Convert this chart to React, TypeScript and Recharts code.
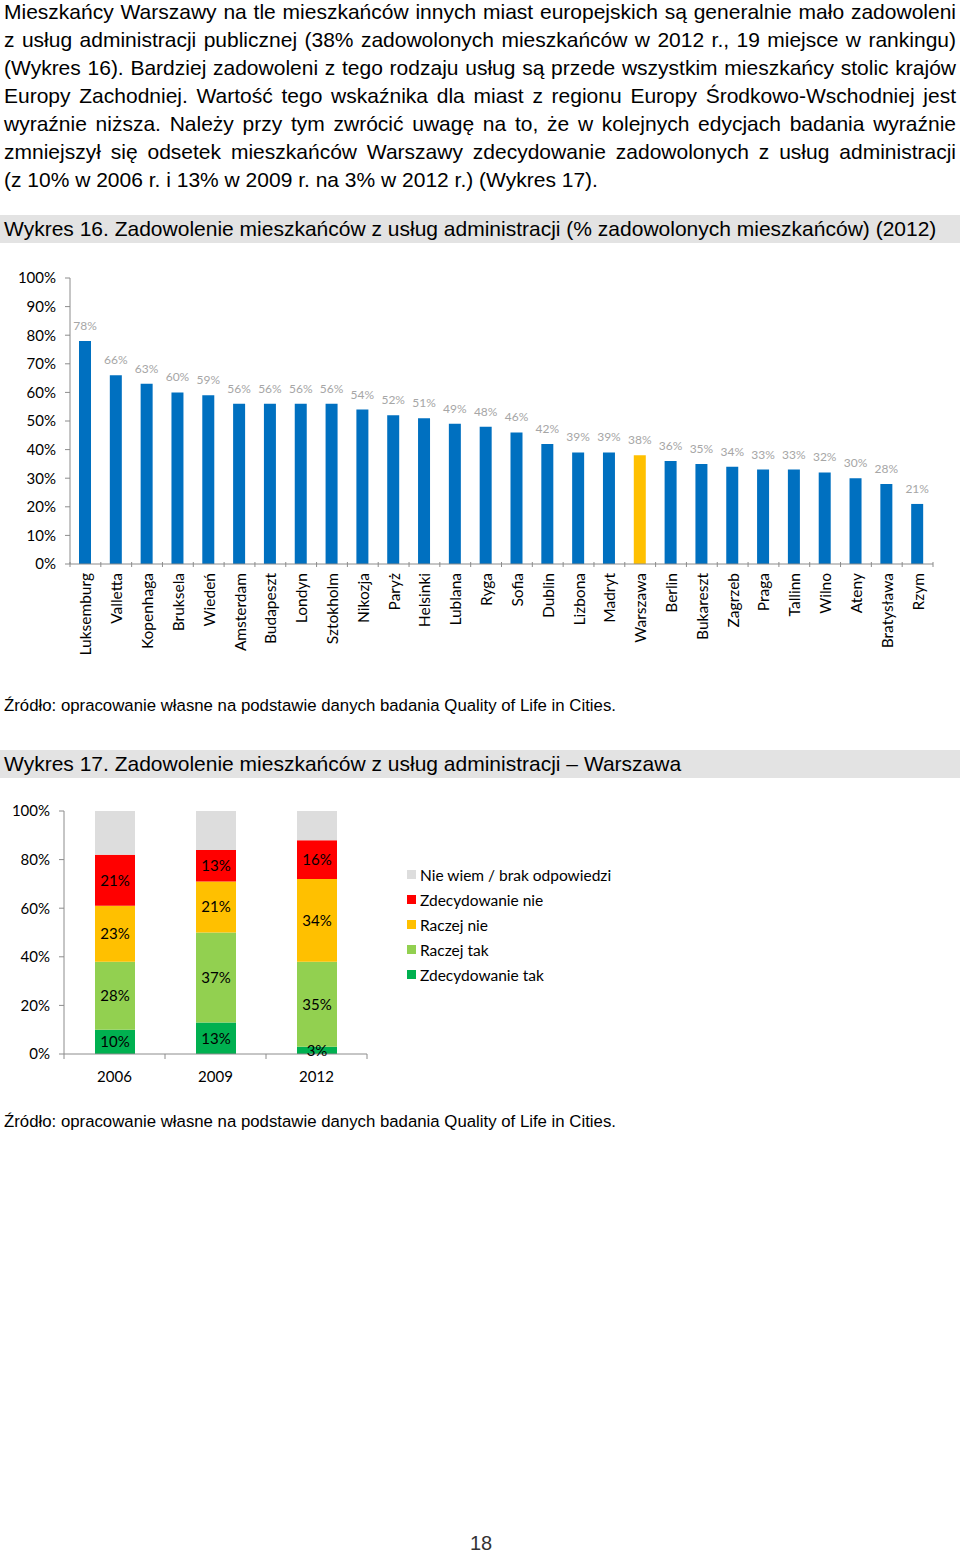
import { BarChart, Bar, XAxis, YAxis, LabelList, Cell, Legend } from 'recharts';

// Wykres 16 – dane
const cities = [
  'Luksemburg', 'Valletta', 'Kopenhaga', 'Bruksela', 'Wiedeń', 'Amsterdam', 'Budapeszt',
  'Londyn', 'Sztokholm', 'Nikozja', 'Paryż', 'Helsinki', 'Lublana', 'Ryga', 'Sofia',
  'Dublin', 'Lizbona', 'Madryt', 'Warszawa', 'Berlin', 'Bukareszt', 'Zagrzeb', 'Praga',
  'Tallinn', 'Wilno', 'Ateny', 'Bratysława', 'Rzym',
];
const satisfied = [78, 66, 63, 60, 59, 56, 56, 56, 56, 54, 52, 51, 49, 48, 46, 42, 39, 39, 38, 36, 35, 34, 33, 33, 32, 30, 28, 21];
const pctTicks16 = [0, 10, 20, 30, 40, 50, 60, 70, 80, 90, 100];
const highlightCity = 'Warszawa';

// Wykres 17 – dane
const years = ['2006', '2009', '2012'];
const zdecydowanieTak = [10, 13, 3];
const raczejTak = [28, 37, 35];
const raczejNie = [23, 21, 34];
const zdecydowanieNie = [21, 13, 16];
const nieWiem = [18, 16, 12];
const pctTicks17 = [0, 20, 40, 60, 80, 100];

const series17 = [
  { key: 'zt', name: 'Zdecydowanie tak', values: zdecydowanieTak, color: '#00B050', label: true },
  { key: 'rt', name: 'Raczej tak', values: raczejTak, color: '#92D050', label: true },
  { key: 'rn', name: 'Raczej nie', values: raczejNie, color: '#FFC000', label: true },
  { key: 'zn', name: 'Zdecydowanie nie', values: zdecydowanieNie, color: '#FF0000', label: true },
  { key: 'nw', name: 'Nie wiem / brak odpowiedzi', values: nieWiem, color: '#DDDDDD', label: false },
];

const paragraph = [
  'Mieszkańcy Warszawy na tle mieszkańców innych miast europejskich są generalnie mało zadowoleni',
  'z usług administracji publicznej (38% zadowolonych mieszkańców w 2012 r., 19 miejsce w rankingu)',
  '(Wykres 16). Bardziej zadowoleni z tego rodzaju usług są przede wszystkim mieszkańcy stolic krajów',
  'Europy Zachodniej. Wartość tego wskaźnika dla miast z regionu Europy Środkowo-Wschodniej jest',
  'wyraźnie niższa. Należy przy tym zwrócić uwagę na to, że w kolejnych edycjach badania wyraźnie',
  'zmniejszył się odsetek mieszkańców Warszawy zdecydowanie zadowolonych z usług administracji',
  '(z 10% w 2006 r. i 13% w 2009 r. na 3% w 2012 r.) (Wykres 17).',
];

const SERIF = '"Liberation Sans", Arial, sans-serif';
const CHART_FONT = 'Lato, "Open Sans", sans-serif';
const AXIS_GRAY = '#8c8c8c';

const data16 = cities.map((c, i) => ({ city: c, value: satisfied[i] }));
const data17 = years.map((y, i) => {
  const row: any = { year: y };
  series17.forEach((s) => { row[s.key] = s.values[i]; });
  return row;
});

// oś kategorii z kreskami na granicach kategorii (jak w Excelu)
function makeCategoryTick(band: number, lastLabel: string, fontSize: number, rotate: boolean) {
  return (props: any) => {
    const { x, y, payload } = props;
    const half = band / 2;
    return (
      <g>
        <line x1={x - half} y1={y - 8} x2={x - half} y2={y - 3} stroke={AXIS_GRAY} />
        {payload.value === lastLabel && (
          <line x1={x + half} y1={y - 8} x2={x + half} y2={y - 3} stroke={AXIS_GRAY} />
        )}
        {rotate ? (
          <text
            x={x}
            y={y}
            transform={`rotate(-90, ${x}, ${y})`}
            textAnchor="end"
            dominantBaseline="central"
            fontSize={fontSize}
            fill="#000"
            fontFamily={CHART_FONT}
            dx={-3}
          >
            {payload.value}
          </text>
        ) : (
          <text x={x} y={y + 20} textAnchor="middle" fontSize={fontSize} fill="#000" fontFamily={CHART_FONT}>
            {payload.value}
          </text>
        )}
      </g>
    );
  };
}

const pctFormatter = (v: number) => `${v}%`;

function Legend17() {
  return (
    <div style={{ fontFamily: CHART_FONT, fontSize: 15.5, color: '#000' }}>
      {[...series17].reverse().map((s) => (
        <div key={s.key} style={{ display: 'flex', alignItems: 'center', height: 25 }}>
          <span style={{ display: 'inline-block', width: 9, height: 9, background: s.color, marginRight: 4 }} />
          <span>{s.name}</span>
        </div>
      ))}
    </div>
  );
}

const bandStyle: React.CSSProperties = {
  position: 'absolute',
  left: 0,
  width: 960,
  height: 28,
  background: '#E3E3E3',
  fontFamily: SERIF,
  fontSize: 21,
  lineHeight: '28px',
  paddingLeft: 4,
  boxSizing: 'border-box',
  color: '#000',
  whiteSpace: 'nowrap',
};

const sourceStyle: React.CSSProperties = {
  position: 'absolute',
  left: 4,
  fontFamily: SERIF,
  fontSize: 16.8,
  color: '#000',
  whiteSpace: 'nowrap',
};

export default function App() {
  const w16 = 960;
  const plotLeft16 = 70;
  const plotRight16 = 27;
  const band16 = (w16 - plotLeft16 - plotRight16) / cities.length;

  const w17 = 640;
  const plotLeft17 = 64;
  const plotRight17 = 640 - 367;
  const band17 = (w17 - plotLeft17 - plotRight17) / years.length;

  return (
    <div style={{ position: 'absolute', left: 0, top: 0, width: 960, height: 1553, background: '#fff' }}>
      <div style={{ position: 'absolute', left: 4, top: -2, width: 952, fontFamily: SERIF, fontSize: 21, lineHeight: '28px', color: '#000' }}>
        {paragraph.map((line, i) => (
          <div
            key={i}
            style={{
              textAlign: 'justify',
              textAlignLast: i < paragraph.length - 1 ? 'justify' : 'left',
              whiteSpace: 'nowrap',
            }}
          >
            {line}
          </div>
        ))}
      </div>

      <div style={{ ...bandStyle, top: 215 }}>
        Wykres 16. Zadowolenie mieszkańców z usług administracji (% zadowolonych mieszkańców) (2012)
      </div>

      <div style={{ position: 'absolute', left: 0, top: 260 }}>
        <BarChart
          width={w16}
          height={420}
          data={data16}
          margin={{ top: 18, right: plotRight16, bottom: 0, left: 0 }}
          barSize={12}
        >
          <XAxis
            dataKey="city"
            interval={0}
            height={116}
            axisLine={{ stroke: AXIS_GRAY }}
            tickLine={false}
            tick={makeCategoryTick(band16, cities[cities.length - 1], 15.5, true)}
            tickMargin={0}
          />
          <YAxis
            width={plotLeft16}
            domain={[0, 100]}
            ticks={pctTicks16}
            tickFormatter={pctFormatter}
            axisLine={{ stroke: AXIS_GRAY }}
            tickLine={{ stroke: AXIS_GRAY }}
            tickSize={5}
            tickMargin={9}
            tick={{ fill: '#000', fontSize: 15, fontFamily: CHART_FONT }}
            interval={0}
          />
          <Bar dataKey="value" isAnimationActive={false}>
            {data16.map((d) => (
              <Cell key={d.city} fill={d.city === highlightCity ? '#FFC000' : '#0070C0'} />
            ))}
            <LabelList
              dataKey="value"
              position="top"
              offset={11}
              formatter={pctFormatter}
              style={{ fill: '#A6A6A6', fontSize: 12, fontFamily: CHART_FONT }}
            />
          </Bar>
        </BarChart>
      </div>

      <div style={{ ...sourceStyle, top: 696 }}>
        Źródło: opracowanie własne na podstawie danych badania Quality of Life in Cities.
      </div>

      <div style={{ ...bandStyle, top: 750 }}>
        Wykres 17. Zadowolenie mieszkańców z usług administracji – Warszawa
      </div>

      <div style={{ position: 'absolute', left: 0, top: 800 }}>
        <BarChart
          width={w17}
          height={296}
          data={data17}
          margin={{ top: 11, right: plotRight17, bottom: 0, left: 0 }}
          barSize={40}
        >
          <XAxis
            dataKey="year"
            interval={0}
            height={42}
            axisLine={{ stroke: AXIS_GRAY }}
            tickLine={false}
            tick={makeCategoryTick(band17, years[years.length - 1], 15, false)}
          />
          <YAxis
            width={plotLeft17}
            domain={[0, 100]}
            ticks={pctTicks17}
            tickFormatter={pctFormatter}
            axisLine={{ stroke: AXIS_GRAY }}
            tickLine={{ stroke: AXIS_GRAY }}
            tickSize={5}
            tickMargin={9}
            tick={{ fill: '#000', fontSize: 15, fontFamily: CHART_FONT }}
            interval={0}
          />
          <Legend
            layout="vertical"
            align="center"
            verticalAlign="middle"
            content={() => <Legend17 />}
            wrapperStyle={{ left: 407, top: 62, width: 230 }}
          />
          {series17.map((s) => (
            <Bar key={s.key} dataKey={s.key} name={s.name} stackId="a" fill={s.color} isAnimationActive={false}>
              {s.label && (
                <LabelList
                  dataKey={s.key}
                  position="center"
                  formatter={pctFormatter}
                  style={{ fill: '#000', fontSize: 15, fontFamily: CHART_FONT }}
                />
              )}
            </Bar>
          ))}
        </BarChart>
      </div>

      <div style={{ ...sourceStyle, top: 1112 }}>
        Źródło: opracowanie własne na podstawie danych badania Quality of Life in Cities.
      </div>

      <div style={{ position: 'absolute', left: 470, top: 1532, fontFamily: SERIF, fontSize: 20, color: '#333' }}>18</div>
    </div>
  );
}
